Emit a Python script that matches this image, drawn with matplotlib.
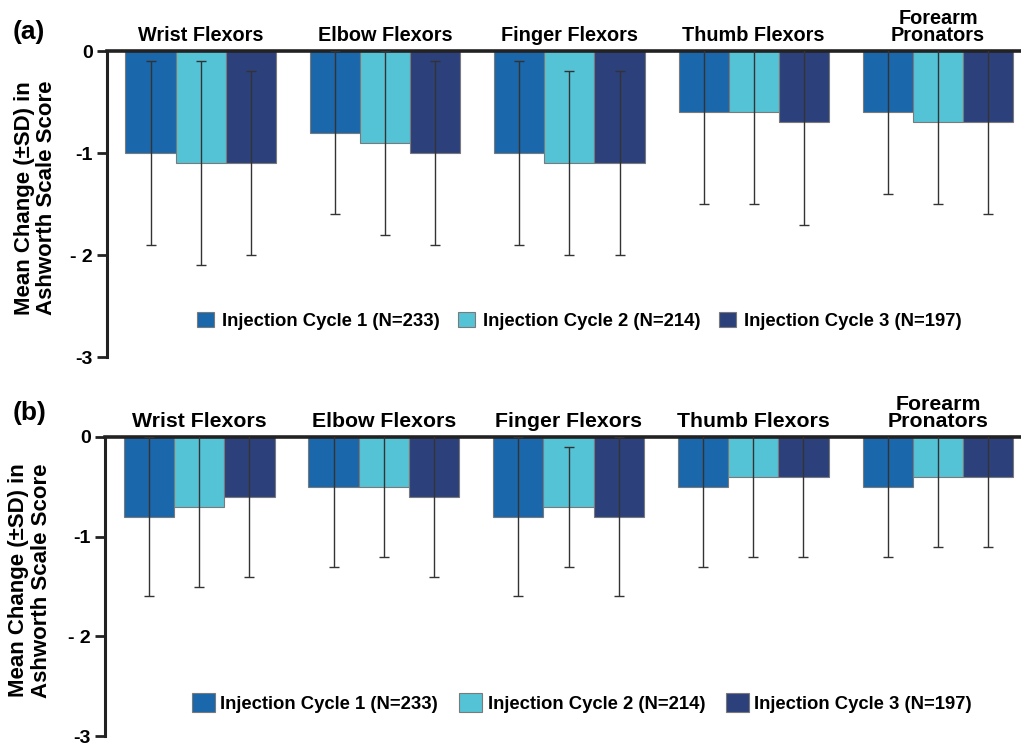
#!/usr/bin/env python3
"""Mean change in Ashworth scale score by muscle group and injection cycle, two panels."""

import numpy as np
import matplotlib

matplotlib.use("Agg")
import matplotlib.pyplot as plt

plt.rcParams["font.family"] = ["Liberation Sans", "DejaVu Sans"]
plt.rcParams["font.weight"] = "bold"

groups = ["Wrist Flexors", "Elbow Flexors", "Finger Flexors", "Thumb Flexors", "Forearm\nPronators"]
cycles = ["Injection Cycle 1 (N=233)", "Injection Cycle 2 (N=214)", "Injection Cycle 3 (N=197)"]
colors = ["#1a67ab", "#55c3d6", "#2c407c"]

# panel (a): mean change and SD per cycle
a_mean_c1 = [-1.0, -0.8, -1.0, -0.6, -0.6]
a_mean_c2 = [-1.1, -0.9, -1.1, -0.6, -0.7]
a_mean_c3 = [-1.1, -1.0, -1.1, -0.7, -0.7]
a_sd_c1 = [0.9, 0.8, 0.9, 0.9, 0.8]
a_sd_c2 = [1.0, 0.9, 0.9, 0.9, 0.8]
a_sd_c3 = [0.9, 0.9, 0.9, 1.0, 0.9]

# panel (b)
b_mean_c1 = [-0.8, -0.5, -0.8, -0.5, -0.5]
b_mean_c2 = [-0.7, -0.5, -0.7, -0.4, -0.4]
b_mean_c3 = [-0.6, -0.6, -0.8, -0.4, -0.4]
b_sd_c1 = [0.8, 0.8, 0.8, 0.8, 0.7]
b_sd_c2 = [0.8, 0.7, 0.6, 0.8, 0.7]
b_sd_c3 = [0.8, 0.8, 0.8, 0.8, 0.7]

yticks = [0, -1, -2, -3]
ytick_labels = ["0", "-1", "- 2", "-3"]
ylabel = "Mean Change (\u00b1SD) in\nAshworth Scale Score"


def draw_panel(ax, means, sds, cat_size, leg_kw, leg_xy):
    x = np.arange(len(groups))
    w = 0.272
    for i, (m, s) in enumerate(zip(means, sds)):
        ax.bar(x + (i - 1) * w, m, width=w, color=colors[i], edgecolor="#7a7a7a",
               linewidth=0.8, label=cycles[i], zorder=2)
        ax.errorbar(x + (i - 1) * w, m, yerr=s, fmt="none", ecolor="#333333",
                    elinewidth=1.0, capsize=3.8, capthick=1.0, zorder=3)
    ax.set_ylim(-3, 0)
    ax.set_xlim(-0.51, 4.45)
    ax.set_yticks(yticks)
    ax.set_yticklabels(ytick_labels, fontsize=14, fontweight="bold")
    ax.tick_params(axis="y", direction="out", length=7, width=2, color="#222222", pad=3)
    ax.xaxis.tick_top()
    ax.set_xticks(x)
    ax.set_xticklabels(groups, fontsize=cat_size, fontweight="bold", linespacing=0.9)
    ax.tick_params(axis="x", length=0, pad=4)
    for side in ["bottom", "right"]:
        ax.spines[side].set_visible(False)
    ax.spines["top"].set_linewidth(2.6)
    ax.spines["top"].set_color("#222222")
    ax.spines["left"].set_linewidth(2.2)
    ax.spines["left"].set_color("#222222")
    ax.set_ylabel(ylabel, fontsize=16, fontweight="bold", linespacing=1.1, va="center")
    ax.legend(loc="center", bbox_to_anchor=leg_xy, ncol=3, frameon=False,
              prop={"size": 13.3, "weight": "bold"}, **leg_kw)
    return ax


fig = plt.figure(figsize=(10.21, 7.48), dpi=100)
ax1 = fig.add_axes([0.1045, 0.5223, 0.8955, 0.4095])
ax2 = fig.add_axes([0.1028, 0.016, 0.8972, 0.3998])

draw_panel(ax1, [a_mean_c1, a_mean_c2, a_mean_c3], [a_sd_c1, a_sd_c2, a_sd_c3], 14.3,
           dict(handlelength=0.92, handleheight=0.9, handletextpad=0.42, columnspacing=1.0),
           (0.517, 0.118))
draw_panel(ax2, [b_mean_c1, b_mean_c2, b_mean_c3], [b_sd_c1, b_sd_c2, b_sd_c3], 15.3,
           dict(handlelength=1.22, handleheight=1.2, handletextpad=0.3, columnspacing=1.15),
           (0.521, 0.11))
ax1.yaxis.set_label_coords(-0.078, 0.52)
ax2.yaxis.set_label_coords(-0.082, 0.52)

fig.text(0.012, 0.957, "(a)", fontsize=19, fontweight="bold", ha="left", va="center")
fig.text(0.012, 0.4475, "(b)", fontsize=19, fontweight="bold", ha="left", va="center")

fig.savefig("out.png", dpi=100)
